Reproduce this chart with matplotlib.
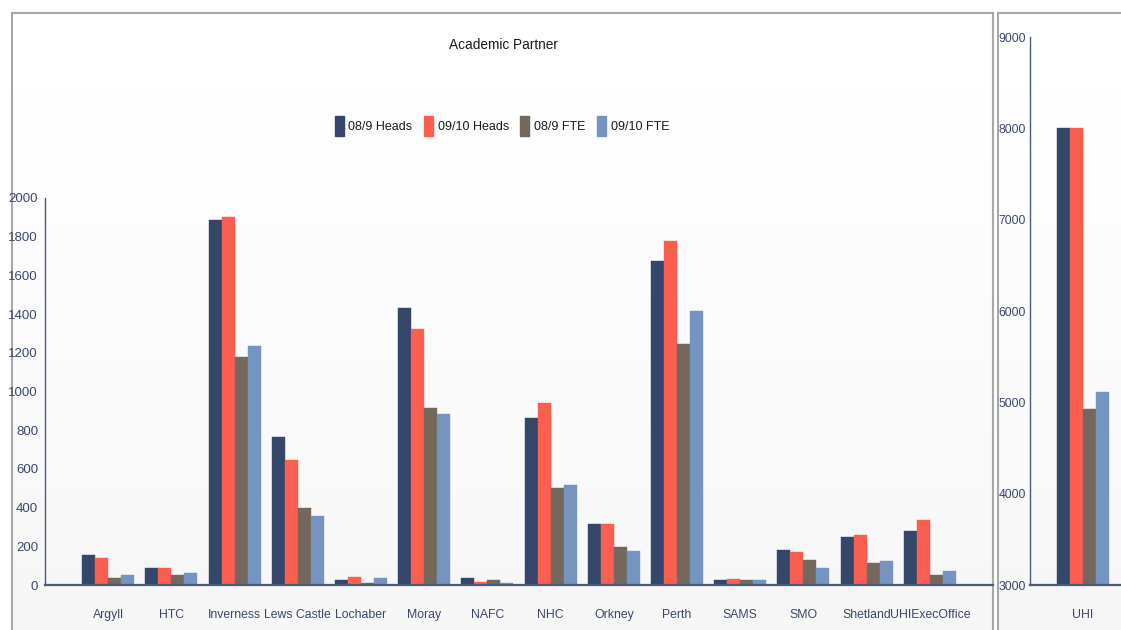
import matplotlib.pyplot as plt
import numpy as np
from matplotlib.patches import Patch

# данные
partners = ['Argyll', 'HTC', 'Inverness', 'Lews Castle', 'Lochaber', 'Moray', 'NAFC',
            'NHC', 'Orkney', 'Perth', 'SAMS', 'SMO', 'Shetland', 'UHIExecOffice']
heads_0809 = [156, 90, 1884, 765, 24, 1432, 38, 863, 315, 1676, 24, 180, 246, 280]
heads_0910 = [142, 90, 1900, 644, 41, 1323, 17, 938, 315, 1780, 30, 171, 258, 336]
fte_0809 = [38, 50, 1178, 398, 12, 913, 24, 500, 194, 1246, 24, 128, 116, 52]
fte_0910 = [50, 64, 1235, 358, 38, 886, 12, 517, 176, 1417, 24, 90, 125, 73]

total_label = ['UHI']
total_heads_0809 = [8000]
total_heads_0910 = [8005]
total_fte_0809 = [4925]
total_fte_0910 = [5115]

series_names = ['08/9 Heads', '09/10 Heads', '08/9 FTE', '09/10 FTE']
colors = ['#34476a', '#fa5f4f', '#73685b', '#7594c0']

W, H = 1121, 630
plt.rcParams['font.family'] = ['Liberation Sans', 'DejaVu Sans']
txt_col = '#3a4868'
axis_col = '#4a5a78'

fig = plt.figure(figsize=(W / 100, H / 100), dpi=100)
fig.patch.set_facecolor('white')


def fx(px):
    return px / W


def fy(py):
    return 1 - py / H


# фоновые панели с рамкой и лёгким градиентом
grad = np.linspace(1.0, 0.965, 64).reshape(-1, 1)
for x0, x1, sides in [(12, 993, ['top', 'left', 'right']), (998, 1125, ['top', 'left'])]:
    bg = fig.add_axes([fx(x0), 0, fx(x1 - x0), fy(13)])
    bg.imshow(grad, cmap='gray', vmin=0, vmax=1, aspect='auto', extent=[0, 1, 0, 1])
    bg.set_xticks([])
    bg.set_yticks([])
    for s in ['top', 'bottom', 'left', 'right']:
        bg.spines[s].set_visible(s in sides)
        bg.spines[s].set_color('#a8a8a8')
        bg.spines[s].set_linewidth(1.5)
    bg.set_zorder(0)


def style_axes(ax, ysize=9.5, ypad=5):
    ax.patch.set_alpha(0)
    for s in ['top', 'right']:
        ax.spines[s].set_visible(False)
    ax.spines['left'].set_color(axis_col)
    ax.spines['left'].set_linewidth(1.0)
    ax.spines['bottom'].set_color(axis_col)
    ax.spines['bottom'].set_linewidth(1.6)
    ax.tick_params(axis='both', length=0, colors=txt_col)
    ax.tick_params(axis='y', pad=ypad, labelsize=ysize)
    ax.tick_params(axis='x', pad=17, labelsize=8.8)


bw = 0.206
offsets = (np.arange(4) - 1.5) * bw

# основная панель
ax = fig.add_axes([fx(45), fy(585), fx(993 - 45), fy(198) - fy(585)])
ax.set_zorder(2)
x = np.arange(len(partners))
for off, vals, c in zip(offsets, [heads_0809, heads_0910, fte_0809, fte_0910], colors):
    ax.bar(x + off, vals, width=bw, color=c, edgecolor=c, linewidth=0.3)
ax.set_xlim(-1.0, 14.0)
ax.set_ylim(0, 2000)
ax.set_yticks(np.arange(0, 2001, 200))
ax.set_xticks(x)
ax.set_xticklabels(partners)
style_axes(ax)

# правая панель (итог)
ax2 = fig.add_axes([fx(1030), fy(585), fx(1121 - 1030), fy(37) - fy(585)])
ax2.set_zorder(2)
x2 = np.arange(len(total_label))
for off, vals, c in zip(offsets, [total_heads_0809, total_heads_0910, total_fte_0809, total_fte_0910], colors):
    ax2.bar(x2 + off, vals, width=bw, color=c, edgecolor=c, linewidth=0.3)
ax2.set_xlim(-0.84, 0.60)
ax2.set_ylim(3000, 9000)
ax2.set_yticks(np.arange(3000, 9001, 1000))
ax2.set_xticks(x2)
ax2.set_xticklabels(total_label)
style_axes(ax2, ysize=8.8, ypad=3)

# заголовок и легенда
fig.text(fx(503), fy(45), 'Academic Partner', ha='center', va='center',
         fontsize=9.8, color='#1a1a1a')
handles = [Patch(facecolor=c, edgecolor=c) for c in colors]
leg = fig.legend(handles, series_names, loc='center', bbox_to_anchor=(fx(502), fy(126)),
                 ncol=4, frameon=False, fontsize=9, handlelength=0.72, handleheight=2.0,
                 handletextpad=0.4, columnspacing=0.9)
for t in leg.get_texts():
    t.set_color('#1a1a1a')

fig.savefig('out.png', dpi=100)
